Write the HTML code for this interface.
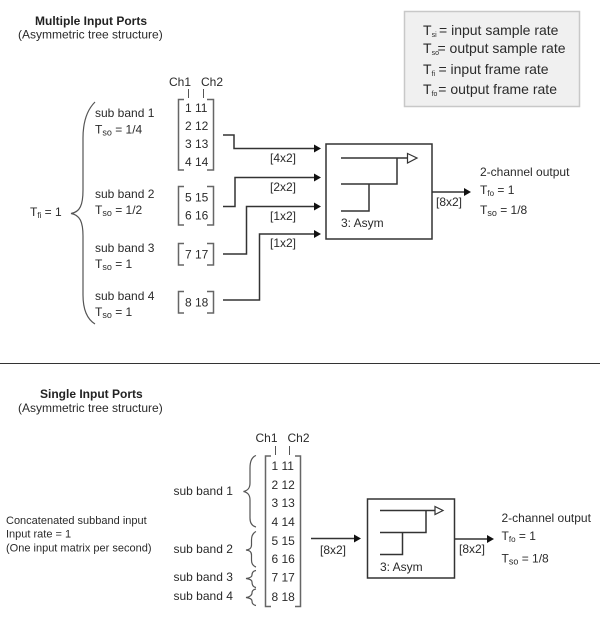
<!DOCTYPE html>
<html>
<head>
<meta charset="utf-8">
<style>
html,body{margin:0;padding:0;background:#fff;width:600px;height:620px;overflow:hidden}
svg{display:block}
text{font-family:"Liberation Sans",sans-serif;font-size:12px;fill:#2a2a2a}
.b{font-weight:bold;fill:#222}
.s{font-size:11px}
.l{font-size:14px}
.w{fill:none;stroke:#333;stroke-width:1.5}
.br{fill:none;stroke:#666;stroke-width:1.5}
.c{fill:none;stroke:#555;stroke-width:1.2}
.t{stroke:#555;stroke-width:1}
.bx{fill:#fff;stroke:#333;stroke-width:1.5}
.a{fill:#111;stroke:none}
</style>
</head>
<body>
<svg width="600" height="620" viewBox="0 0 600 620" xmlns="http://www.w3.org/2000/svg">
<!-- top titles -->
<text class="b" x="35" y="25">Multiple Input Ports</text>
<text x="18" y="38.500">(Asymmetric tree structure)</text>

<!-- legend -->
<rect x="404.500" y="11.500" width="175" height="95" fill="#f0f0f0" stroke="#c8c8c8" stroke-width="1.500"/>
<text class="l" x="423" y="35">T<tspan font-size="7" dy="2">si</tspan><tspan dy="-2" dx="-1.500"> = input sample rate</tspan></text>
<text class="l" x="423" y="53">T<tspan font-size="7" dy="2">so</tspan><tspan dy="-2" dx="-1.500">= output sample rate</tspan></text>
<text class="l" x="423" y="74">T<tspan font-size="7" dy="2">fi</tspan><tspan dy="-2" dx="-0.500"> = input frame rate</tspan></text>
<text class="l" x="423" y="94">T<tspan font-size="7" dy="2">fo</tspan><tspan dy="-2" dx="-3"> = output frame rate</tspan></text>

<!-- top channel labels -->
<text x="169" y="86">Ch1</text>
<text x="201" y="86">Ch2</text>
<line class="t" x1="188.500" y1="89" x2="188.500" y2="98"/>
<line class="t" x1="203.500" y1="89" x2="203.500" y2="98"/>

<!-- top brace -->
<path class="c" d="M95 102 C87 110 83 122 83 138 L83 190 C83 205 80 212 71 213.500 C80 215 83 222 83 236 L83 295 C83 310 87 319 95 324"/>
<text x="30" y="216">T<tspan font-size="8" dy="2">fi</tspan><tspan dy="-2"> = 1</tspan></text>

<!-- sub band labels -->
<text x="95" y="117">sub band 1</text>
<text x="95" y="133.500">T<tspan font-size="9" dy="2">so</tspan><tspan dy="-2"> = 1/4</tspan></text>
<text x="95" y="198">sub band 2</text>
<text x="95" y="214">T<tspan font-size="9" dy="2">so</tspan><tspan dy="-2"> = 1/2</tspan></text>
<text x="95" y="252">sub band 3</text>
<text x="95" y="268">T<tspan font-size="9" dy="2">so</tspan><tspan dy="-2"> = 1</tspan></text>
<text x="95" y="300">sub band 4</text>
<text x="95" y="316">T<tspan font-size="9" dy="2">so</tspan><tspan dy="-2"> = 1</tspan></text>

<!-- top matrices -->
<path class="br" d="M184 99.500H178.500V170H184M207 99.500H213.500V170H207"/>
<text x="185" y="112">1 11</text>
<text x="185" y="130">2 12</text>
<text x="185" y="148">3 13</text>
<text x="185" y="166">4 14</text>

<path class="br" d="M184 186.500H178.500V225H184M207 186.500H213.500V225H207"/>
<text x="185" y="201.500">5 15</text>
<text x="185" y="219.500">6 16</text>

<path class="br" d="M184 243.500H178.500V265H184M207 243.500H213.500V265H207"/>
<text x="185" y="258.500">7 17</text>

<path class="br" d="M184 291.500H178.500V313H184M207 291.500H213.500V313H207"/>
<text x="185" y="306.500">8 18</text>

<!-- top wires -->
<path class="w" d="M223 135H234V148.500H316"/>
<polygon class="a" points="314,144.500 321,148.500 314,152.500"/>
<path class="w" d="M223 206.500H235V177.500H316"/>
<polygon class="a" points="314,173.500 321,177.500 314,181.500"/>
<path class="w" d="M223 254H246.500V206.500H316"/>
<polygon class="a" points="314,202.500 321,206.500 314,210.500"/>
<path class="w" d="M223 300H259.500V234H316"/>
<polygon class="a" points="314,230 321,234 314,238"/>
<text x="270" y="162">[4x2]</text>
<text x="270" y="191">[2x2]</text>
<text x="270" y="220">[1x2]</text>
<text x="270" y="247">[1x2]</text>

<!-- top block -->
<rect class="bx" x="326" y="144" width="106" height="95"/>
<path class="w" d="M341 158H407M341 184H397V158M341 211H369V184"/>
<polygon points="407.500,153.500 417,158 407.500,163" fill="#fff" stroke="#333" stroke-width="1.200"/>
<text x="341" y="227">3: Asym</text>

<path class="w" d="M432 192H466"/>
<polygon class="a" points="464,188 471,192 464,196"/>
<text x="436" y="206">[8x2]</text>
<text x="480" y="176">2-channel output</text>
<text x="480" y="194">T<tspan font-size="8" dy="2">fo</tspan><tspan dy="-2"> = 1</tspan></text>
<text x="480" y="214">T<tspan font-size="9" dy="2">so</tspan><tspan dy="-2"> = 1/8</tspan></text>

<!-- divider -->
<line x1="0" y1="363.500" x2="600" y2="363.500" stroke="#333" stroke-width="1"/>

<!-- bottom titles -->
<text class="b" x="40" y="398">Single Input Ports</text>
<text x="18" y="412">(Asymmetric tree structure)</text>

<text class="s" x="6" y="524">Concatenated subband input</text>
<text class="s" x="6" y="537.500">Input rate = 1</text>
<text class="s" x="6" y="551.500">(One input matrix per second)</text>

<!-- bottom channels -->
<text x="255.500" y="442">Ch1</text>
<text x="287.500" y="442">Ch2</text>
<line class="t" x1="275.500" y1="446" x2="275.500" y2="455"/>
<line class="t" x1="289.500" y1="446" x2="289.500" y2="455"/>

<!-- bottom matrix -->
<path class="br" d="M271 456H265.500V606.500H271M295 456H300.500V606.500H295" stroke="#444"/>
<text x="271.500" y="470">1 11</text>
<text x="271.500" y="489">2 12</text>
<text x="271.500" y="507">3 13</text>
<text x="271.500" y="526">4 14</text>
<text x="271.500" y="545">5 15</text>
<text x="271.500" y="563">6 16</text>
<text x="271.500" y="581.500">7 17</text>
<text x="271.500" y="601">8 18</text>

<!-- bottom sub bands -->
<text x="173.500" y="495">sub band 1</text>
<text x="173.500" y="553">sub band 2</text>
<text x="173.500" y="581">sub band 3</text>
<text x="173.500" y="600">sub band 4</text>

<path class="c" d="M256 455.500 C252 457 250 461 250 468 L250 483 C250 488 248 490.500 243.500 491.500 C248 492.500 250 495 250 500 L250 518 C250 523 252 526 256 527"/>
<path class="c" d="M256 531.500 C253 533 251.500 536 251.500 540 L251.500 545 C251.500 548 250 549.500 246 550 C250 550.500 251.500 552 251.500 555 L251.500 560 C251.500 564 253 566 256 567"/>
<path class="c" d="M256 570.500 C253 571 252 573 252 575 C252 577 250 578 246 578.500 C250 579 252 580 252 582 C252 585 253 587 256 587.500"/>
<path class="c" d="M256 589 C253 589.500 252 591 252 593 C252 595 250 597 246 597.500 C250 598 252 599 252 601 C252 603 253 605 256 605.500"/>

<!-- bottom wires -->
<path class="w" d="M311 538.500H356"/>
<polygon class="a" points="354,534.500 361,538.500 354,542.500"/>
<text x="320" y="554">[8x2]</text>

<rect class="bx" x="367.500" y="499" width="87" height="79"/>
<path class="w" d="M380 510.500H435M380 532.500H426V510.500M380 554.500H402.500V532.500"/>
<polygon points="435,506.500 443,510.500 435,514.500" fill="#fff" stroke="#333" stroke-width="1.200"/>
<text x="380" y="571">3: Asym</text>

<path class="w" d="M454.500 539H489"/>
<polygon class="a" points="487,535 494,539 487,543"/>
<text x="459" y="553">[8x2]</text>
<text x="501.500" y="522">2-channel output</text>
<text x="501.500" y="540">T<tspan font-size="8" dy="2">fo</tspan><tspan dy="-2"> = 1</tspan></text>
<text x="501.500" y="562.500">T<tspan font-size="9" dy="2">so</tspan><tspan dy="-2"> = 1/8</tspan></text>
</svg>
</body>
</html>
